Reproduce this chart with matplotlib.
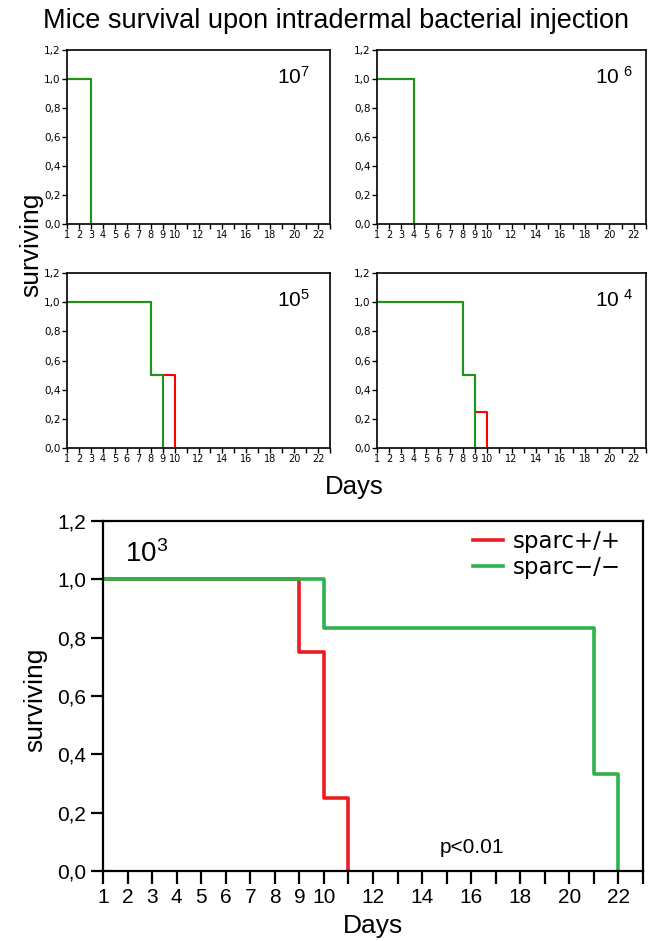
import numpy as np
import matplotlib
matplotlib.use("Agg")
import matplotlib.pyplot as plt

plt.rcParams['font.family'] = ['Liberation Sans', 'DejaVu Sans']
plt.rcParams['mathtext.default'] = 'regular'

# survival curves (day, fraction surviving), step after each day
p7_wt_days = [1, 3];          p7_wt_surv = [1.0, 0.0]
p7_ko_days = [1, 3];          p7_ko_surv = [1.0, 0.0]
p6_wt_days = [1, 4];          p6_wt_surv = [1.0, 0.0]
p6_ko_days = [1, 4];          p6_ko_surv = [1.0, 0.0]
p5_wt_days = [1, 8, 10];      p5_wt_surv = [1.0, 0.5, 0.0]
p5_ko_days = [1, 8, 9];       p5_ko_surv = [1.0, 0.5, 0.0]
p4_wt_days = [1, 8, 9, 10];   p4_wt_surv = [1.0, 0.5, 0.25, 0.0]
p4_ko_days = [1, 8, 9];       p4_ko_surv = [1.0, 0.5, 0.0]
p3_wt_days = [1, 9, 10, 11];  p3_wt_surv = [1.0, 0.75, 0.25, 0.0]
p3_ko_days = [1, 10, 21, 22]; p3_ko_surv = [1.0, 0.833, 0.333, 0.0]

small_labels = [r'$10^7$', r'$10^{\ 6}$', r'$10^5$', r'$10^{\ 4}$']
small_panels = [(p7_wt_days, p7_wt_surv, p7_ko_days, p7_ko_surv),
                (p6_wt_days, p6_wt_surv, p6_ko_days, p6_ko_surv),
                (p5_wt_days, p5_wt_surv, p5_ko_days, p5_ko_surv),
                (p4_wt_days, p4_wt_surv, p4_ko_days, p4_ko_surv)]

x_ticks = list(range(1, 24))
x_ticklabels = [str(d) if (d <= 10 or d % 2 == 0) and d != 23 else '' for d in x_ticks]
y_ticks = [0.0, 0.2, 0.4, 0.6, 0.8, 1.0, 1.2]
y_ticklabels = ['0,0', '0,2', '0,4', '0,6', '0,8', '1,0', '1,2']

W, H = 660, 941
fig = plt.figure(figsize=(W / 100, H / 100), dpi=100)


def rect(l, t, r, b):
    return [l / W, 1 - b / H, (r - l) / W, (b - t) / H]


small_rects = [rect(67, 50, 330, 224), rect(377, 50, 646, 224),
               rect(67, 273, 330, 448), rect(377, 273, 646, 448)]

for i, (r, (wd, ws, kd, ks)) in enumerate(zip(small_rects, small_panels)):
    ax = fig.add_axes(r)
    ax.step(wd, ws, where='post', color='#ff0000', lw=1.5)
    ax.step(kd, ks, where='post', color='#1a961a', lw=1.5)
    ax.set_xlim(1, 23)
    ax.set_ylim(0, 1.2)
    ax.set_xticks(x_ticks)
    ax.set_xticklabels(x_ticklabels, family='DejaVu Sans', fontsize=7)
    ax.set_yticks(y_ticks)
    ax.set_yticklabels(y_ticklabels, family='DejaVu Sans', fontsize=7.5)
    ax.tick_params(length=3.5, width=1.0, pad=1)
    for s in ax.spines.values():
        s.set_linewidth(1.2)
    xl = 18.6 if i % 2 == 0 else 18.8
    ax.text(xl, 0.97, small_labels[i], fontsize=15, ha='left', va='baseline')

fig.text(336 / W, 1 - 28 / H, 'Mice survival upon intradermal bacterial injection',
         fontsize=19.5, ha='center', va='baseline')
fig.text(31 / W, 1 - 245 / H, 'surviving', fontsize=19, rotation=90,
         ha='center', va='center')
fig.text(354 / W, 1 - 487 / H, 'Days', fontsize=18.5, ha='center', va='center')

# main panel, 10^3
ax = fig.add_axes(rect(103, 521, 643, 871))
ax.step(p3_wt_days, p3_wt_surv, where='post', color='#ec1c24', lw=2.6,
        label='sparc+/+')
ax.step(p3_ko_days, p3_ko_surv, where='post', color='#2eb24a', lw=2.6,
        label='sparc\u2212/\u2212')
ax.set_xlim(1, 23)
ax.set_ylim(0, 1.2)
ax.set_xticks(x_ticks)
ax.set_xticklabels(x_ticklabels, fontsize=15)
ax.set_yticks(y_ticks)
ax.set_yticklabels(y_ticklabels, fontsize=15)
ax.tick_params(length=9, width=1.6, pad=3)
for s in ax.spines.values():
    s.set_linewidth(1.6)
ax.text(1.9, 1.06, r'$10^3$', fontsize=20, ha='left', va='baseline')
ax.text(14.7, 0.062, 'p<0.01', fontsize=15, ha='left', va='baseline')
leg = ax.legend(loc='upper left', bbox_to_anchor=(0.685, 0.975), frameon=False,
                prop={'family': 'DejaVu Sans', 'size': 16.5}, handlelength=1.3,
                handletextpad=0.45, labelspacing=0.15, borderpad=0, borderaxespad=0)
fig.text(35 / W, 1 - 700 / H, 'surviving', fontsize=19, rotation=90,
         ha='center', va='center')
fig.text(373 / W, 1 - 926 / H, 'Days', fontsize=19, ha='center', va='center')

fig.savefig('out.png', dpi=100)
